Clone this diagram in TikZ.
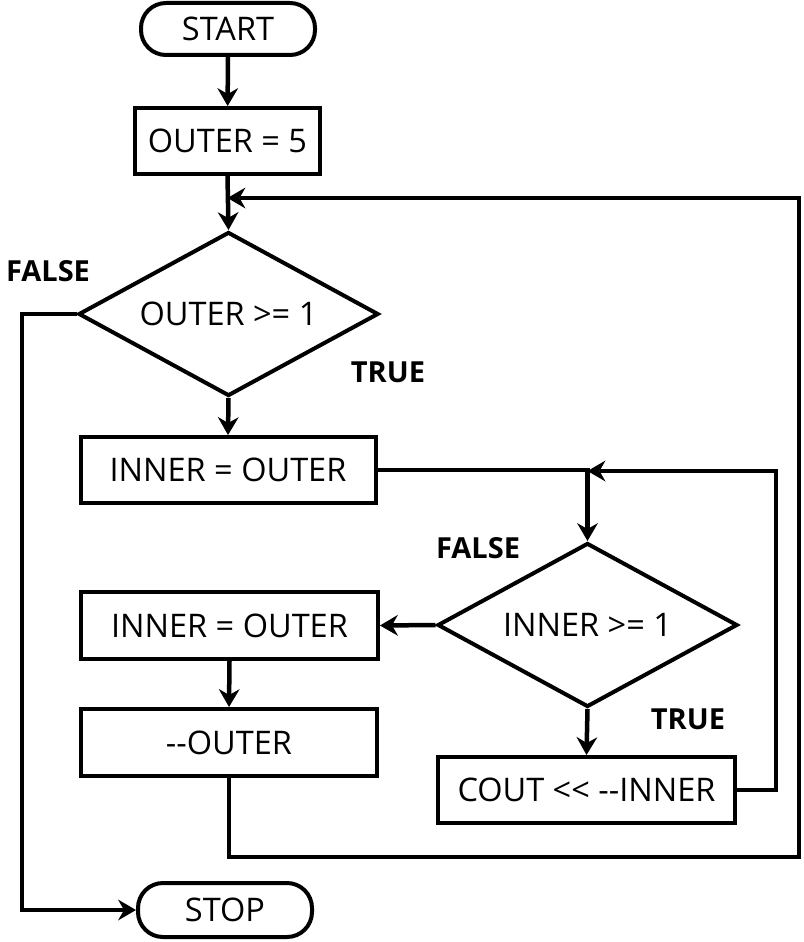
\documentclass[tikz,border=0pt]{standalone}
\usepackage{fontspec}
\setmainfont{Open Sans}
\usetikzlibrary{arrows.meta,shapes.geometric,calc}
\tikzset{
  base/.style={draw=black, line width=4pt, font=\fontsize{32.5}{38}\selectfont, inner sep=0pt},
  terminal/.style={base, rectangle, rounded corners=25pt, minimum width=174pt, minimum height=52pt},
  proc/.style={base, rectangle, minimum height=66pt},
  decision/.style={base, diamond, aspect=1.83, minimum width=300pt, minimum height=164pt},
  lbl/.style={font=\fontsize{29}{34}\selectfont\bfseries, inner sep=0pt},
  arr/.style={line width=4.5pt, -{Stealth[length=18pt 0 0,width=21pt 0 0,inset=6pt 0,line width=0pt]}}
}
\begin{document}
\begin{tikzpicture}[x=1pt,y=1pt]
\useasboundingbox (0,0) rectangle (803,-942);
\node[terminal] (start) at (228,-29) {START};
\node[proc, minimum width=185pt] (o5) at (227.5,-141) {OUTER = 5};
\node[decision] (d1) at (228.5,-314) {OUTER >= 1};
\node[proc, minimum width=295pt] (in1) at (228,-470) {INNER = OUTER};
\node[decision] (d2) at (587.5,-625) {INNER >= 1};
\node[proc, minimum width=297pt, minimum height=67pt] (in2) at (229.5,-625.5) {INNER = OUTER};
\node[proc, minimum width=296pt, minimum height=67pt] (dec) at (229,-742.5) {-{}-OUTER};
\node[proc, minimum width=297pt] (cout) at (586.5,-790) {COUT <{}< -{}-INNER};
\node[terminal, minimum height=54pt] (stop) at (225,-910) {STOP};

\node[lbl] (f1) at (48,-271) {FALSE};
\node[lbl] (t1) at (388,-372) {TRUE};
\node[lbl] (f2) at (478,-548) {FALSE};
\node[lbl] (t2) at (688,-719) {TRUE};

\coordinate (j1) at (227.5,-198);
\coordinate (c1) at (799,-857);
\coordinate (j2) at (587.5,-471);
\coordinate (c2) at (776,-790);
\coordinate (c3) at (22,-314);

\draw[arr] (start) -- (o5);
\draw[arr] (o5.south) -- (d1.north);
\draw[arr] (d1.south) -- (in1.north);
\draw[arr] (in1.east) -| (d2.north);
\draw[arr] (d2.west) -- (in2.east);
\draw[arr] (in2.south) -- (dec.north);
\draw[arr] (d2.south) -- (cout.north);
\draw[arr] (cout.east) -- (c2) |- (j2);
\draw[arr] (dec.south) |- (c1) |- (j1);
\draw[arr] (d1.west) -- (c3) |- (stop.west);
\end{tikzpicture}
\end{document}
